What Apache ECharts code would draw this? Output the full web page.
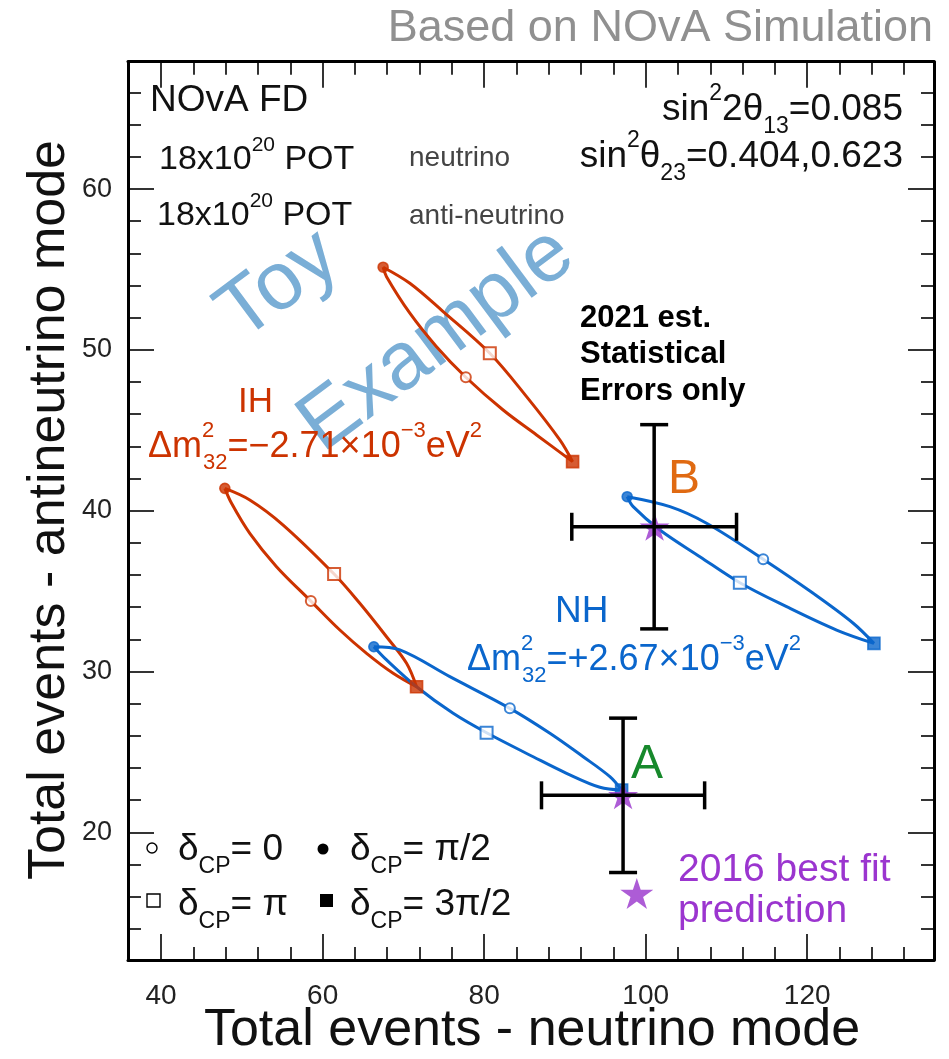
<!DOCTYPE html>
<html><head><meta charset="utf-8">
<script src="https://cdn.jsdelivr.net/npm/echarts@6/dist/echarts.min.js"></script>
<style>html,body{margin:0;padding:0;background:#fff}#c{width:949px;height:1059px}</style>
</head><body><div id="c"></div>
<script>
// ---- tick labels ----
const xMajorTicks = [40, 60, 80, 100, 120];
const xMinorTicks = [44,48,52,56,64,68,72,76,84,88,92,96,104,108,112,116,124,128,132];
const yMajorTicks = [20, 30, 40, 50, 60];
const yMinorTicks = [14,16,18,22,24,26,28,32,34,36,38,42,44,46,48,52,54,56,58,62,64,66];

// ---- ellipse outlines (neutrino, antineutrino) ----
const ihUpperCurve = [[67.49,55.14],[70.80,54.14],[74.92,52.38],[80.70,49.79],[85.25,47.09],[89.37,44.40],[90.95,43.05],
  [86.49,44.71],[82.35,46.26],[77.73,48.30],[74.10,50.20],[70.80,52.28],[67.91,54.55],[67.49,55.14]];
const ihLowerCurve = [[47.89,41.39],[50.98,40.67],[55.11,39.11],[61.42,36.06],[64.60,34.24],[67.91,32.16],[70.39,30.51],[71.63,29.05],
  [68.73,29.89],[65.44,31.13],[62.13,32.58],[58.54,34.38],[54.29,36.52],[50.98,38.59],[48.72,40.46],[47.89,41.39]];
const nhUpperCurve = [[97.71,40.87],[103.0,40.25],[107.54,39.22],[114.55,36.98],[120.74,34.86],[125.70,33.00],[128.26,31.75],
  [123.64,32.58],[117.45,34.03],[111.66,35.52],[106.71,37.14],[101.76,38.80],[98.45,40.25],[97.71,40.87]];
const nhLowerCurve = [[66.34,31.54],[69.56,31.34],[75.75,29.68],[83.18,27.71],[88.14,26.16],[92.26,24.70],[95.57,23.46],[97.02,22.63],
  [94.33,22.80],[90.20,23.67],[86.07,24.70],[80.30,26.19],[76.16,27.40],[71.63,29.05],[67.91,30.72],[66.34,31.54]];

// ---- delta_CP markers: order IH-upper, IH-lower, NH-upper, NH-lower ----
const markerDelta0 = [[77.73,48.30],[58.54,34.38],[114.55,36.98],[83.18,27.71]];
const markerDeltaPiHalf = [[67.49,55.14],[47.89,41.39],[97.71,40.87],[66.34,31.54]];
const markerDeltaPi = [[80.70,49.79],[61.42,36.06],[111.66,35.52],[80.30,26.19]];
const markerDelta3PiHalf = [[90.95,43.05],[71.63,29.05],[128.26,31.75],[97.02,22.63]];
const markerHierarchy = ['IH','IH','NH','NH'];

// ---- stars and error bars ----
const starPoints = [[97.2,22.3],[101.1,39.0],[98.9,16.2]];
const errorCenters = [[97.2,22.3],[101.05,39.0]];
const errorX = [10.1, 10.2];
const errorY = [4.8, 6.35];

const RED = '#cc3300', BLUE = '#0a66cc', PURPLE = '#9933cc';
const hierColor = {IH: RED, NH: BLUE};
const F = 'Liberation Sans';
const STAR = 'path://M0,-100 L22.5,-30.9 L95.1,-30.9 L36.3,11.8 L58.8,80.9 L0,38.2 L-58.8,80.9 L-36.3,11.8 L-95.1,-30.9 L-22.5,-30.9 Z';

function rich(S, C, w) {
  const s = Math.round(S * 0.62);
  return {
    n: {fontSize: S, fontFamily: F, fill: C, fontWeight: w || 'normal', lineHeight: Math.round(S * 1.5)},
    p: {fontSize: s, fontFamily: F, fill: C, lineHeight: Math.round(S * 0.7), verticalAlign: 'top'},
    q: {fontSize: s, fontFamily: F, fill: C, lineHeight: Math.round(S * 0.7), verticalAlign: 'top', width: 1},
    b: {fontSize: s, fontFamily: F, fill: C, lineHeight: Math.round(S * 0.7), verticalAlign: 'bottom'}
  };
}
function txt(x, y, text, S, C, opt) {
  opt = opt || {};
  return {
    type: 'text', x: x, y: y, z: opt.z || 50, rotation: opt.rotation || 0,
    scaleX: opt.sx || 1,
    style: {
      text: text, rich: rich(S, C, opt.weight), fill: C, fontSize: S, fontFamily: F,
      textAlign: opt.align || 'left', align: opt.align || 'left',
      textVerticalAlign: 'middle', verticalAlign: 'middle'
    }
  };
}

const XMIN = 35.9, XMAX = 135.7, YMIN = 12.06, YMAX = 67.92;
const frameLine = {show: true, lineStyle: {color: '#000', width: 3}};
function xAx(pos, ticks, len, labels) {
  return {
    type: 'value', position: pos, min: XMIN, max: XMAX,
    axisLine: labels === null ? {show: false} : frameLine,
    splitLine: {show: false},
    axisTick: {show: true, inside: true, length: len, customValues: ticks, lineStyle: {color: '#000', width: 1.6}},
    axisLabel: labels ? {show: true, customValues: labels, fontSize: 28, fontFamily: F, color: '#222', margin: 22} : {show: false}
  };
}
function yAx(pos, ticks, len, labels) {
  return {
    type: 'value', position: pos, min: YMIN, max: YMAX,
    axisLine: labels === null ? {show: false} : frameLine,
    splitLine: {show: false},
    axisTick: {show: true, inside: true, length: len, customValues: ticks, lineStyle: {color: '#000', width: 1.6}},
    axisLabel: labels ? {show: true, customValues: labels, fontSize: 27, fontFamily: F, color: '#222', margin: 16} : {show: false}
  };
}

function curve(data, color) {
  return {type: 'line', data: data, smooth: 0.35, symbol: 'none', z: 2, silent: true,
    lineStyle: {color: color, width: 3}};
}
function markers(data, symbol, size) {
  return {type: 'scatter', symbol: symbol, symbolSize: size, z: 3, silent: true,
    data: data.map((p, i) => ({value: p, itemStyle: {color: hierColor[markerHierarchy[i]], borderColor: hierColor[markerHierarchy[i]], borderWidth: 1.6}}))};
}

const chart = echarts.init(document.getElementById('c'), null, {renderer: 'canvas'});
chart.setOption({
  backgroundColor: '#fff',
  animation: false,
  grid: {left: 128, right: 15, top: 61.7, bottom: 99, containLabel: false},
  xAxis: [
    xAx('bottom', xMajorTicks, 26, xMajorTicks),
    xAx('bottom', xMinorTicks, 13, null),
    xAx('top', xMajorTicks, 26, false),
    xAx('top', xMinorTicks, 13, null)
  ],
  yAxis: [
    yAx('left', yMajorTicks, 26, yMajorTicks),
    yAx('left', yMinorTicks, 13, null),
    yAx('right', yMajorTicks, 26, false),
    yAx('right', yMinorTicks, 13, null)
  ],
  series: [
    curve(ihUpperCurve, RED),
    curve(ihLowerCurve, RED),
    curve(nhUpperCurve, BLUE),
    curve(nhLowerCurve, BLUE),
    markers(markerDelta0, 'emptyCircle', 10),
    markers(markerDeltaPiHalf, 'circle', 10),
    markers(markerDeltaPi, 'emptyRect', 12),
    markers(markerDelta3PiHalf, 'rect', 12),
    {type: 'scatter', symbol: STAR, z: 4, silent: true,
      data: starPoints.map((p, i) => ({value: p, symbolSize: i === 2 ? [33, 31] : [30, 28]})),
      itemStyle: {color: PURPLE}},
    {type: 'custom', z: 5, silent: true,
      data: errorCenters.map((c, i) => [c[0], c[1], errorX[i], errorY[i]]),
      renderItem: function (params, api) {
        const x = api.value(0), y = api.value(1), ex = api.value(2), ey = api.value(3);
        const l = api.coord([x - ex, y]), r = api.coord([x + ex, y]);
        const t = api.coord([x, y + ey]), b = api.coord([x, y - ey]);
        const cap = 14, st = {stroke: '#000', lineWidth: 3.5};
        const ln = (x1, y1, x2, y2) => ({type: 'line', shape: {x1, y1, x2, y2}, style: st});
        return {type: 'group', children: [
          ln(l[0], l[1], r[0], r[1]), ln(t[0], t[1], b[0], b[1]),
          ln(l[0], l[1] - cap, l[0], l[1] + cap), ln(r[0], r[1] - cap, r[0], r[1] + cap),
          ln(t[0] - cap, t[1], t[0] + cap, t[1]), ln(b[0] - cap, b[1], b[0] + cap, b[1])
        ]};
      }}
  ],
  graphic: {elements: [
    txt(933, 29, '{n|Based on NOvA Simulation}', 45, '#909090', {align: 'right'}),
    txt(150, 101, '{n|NOvA FD}', 37, '#111'),
    txt(159, 160, '{n|18x10}{p|20}{n| POT}', 34, '#111'),
    txt(157, 216, '{n|18x10}{p|20}{n| POT}', 34, '#111'),
    txt(409, 158, '{n|neutrino}', 28, '#444'),
    txt(409, 216, '{n|anti-neutrino}', 28, '#444'),
    txt(903, 110, '{n|sin}{p|2}{n|2θ}{b|13}{n|=0.085}', 37, '#111', {align: 'right'}),
    txt(903, 157, '{n|sin}{p|2}{n|θ}{b|23}{n|=0.404,0.623}', 37, '#111', {align: 'right'}),
    txt(580, 318, '{n|2021 est.}', 31, '#000', {weight: 'bold'}),
    txt(580, 354, '{n|Statistical}', 31, '#000', {weight: 'bold'}),
    txt(580, 391, '{n|Errors only}', 31, '#000', {weight: 'bold'}),
    txt(238, 402, '{n|IH}', 35, RED),
    txt(148, 447, '{n|Δm}{q|2}{b|32}{n|=−2.71×10}{p|−3}{n|eV}{p|2}', 36, RED),
    txt(555, 612, '{n|NH}', 37, BLUE),
    txt(467, 660, '{n|Δm}{q|2}{b|32}{n|=+2.67×10}{p|−3}{n|eV}{p|2}', 36, BLUE),
    txt(684, 480, '{n|B}', 48, '#e06a12', {align: 'center'}),
    txt(647, 765, '{n|A}', 48, '#17892c', {align: 'center'}),
    txt(678, 870, '{n|2016 best fit}', 39, '#9b35cf'),
    txt(678, 911, '{n|prediction}', 39, '#9b35cf'),
    // legend
    {type: 'circle', shape: {cx: 152, cy: 848, r: 5}, style: {fill: '#fff', stroke: '#000', lineWidth: 1.4}, z: 50},
    {type: 'circle', shape: {cx: 323, cy: 849, r: 5.5}, style: {fill: '#000'}, z: 50},
    {type: 'rect', shape: {x: 147, y: 894, width: 13, height: 13}, style: {fill: '#fff', stroke: '#000', lineWidth: 1.4}, z: 50},
    {type: 'rect', shape: {x: 320, y: 894, width: 13, height: 13}, style: {fill: '#000'}, z: 50},
    txt(178, 850, '{n|δ}{b|CP}{n|= 0}', 37, '#111'),
    txt(350, 850, '{n|δ}{b|CP}{n|= π/2}', 37, '#111'),
    txt(178, 905, '{n|δ}{b|CP}{n|= π}', 37, '#111'),
    txt(350, 905, '{n|δ}{b|CP}{n|= 3π/2}', 37, '#111'),
    // axis titles
    txt(532, 1031, '{n|Total events - neutrino mode}', 52, '#111', {align: 'center'}),
    txt(50, 510, '{n|Total events - antineutrino mode}', 52, '#111', {align: 'center', rotation: Math.PI / 2}),
    // watermark
    txt(279, 286, '{n|Toy}', 82, '#7aaed6', {align: 'center', rotation: 0.64, z: 1}),
    txt(437, 340, '{n|Example}', 82, '#7aaed6', {align: 'center', rotation: 0.64, z: 1})
  ]}
});
</script></body></html>
